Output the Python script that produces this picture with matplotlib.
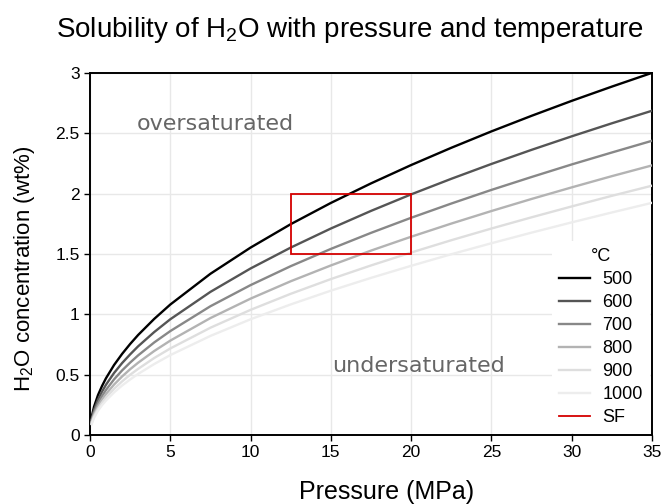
import matplotlib
matplotlib.use("Agg")
import matplotlib.pyplot as plt
from matplotlib.patches import Rectangle

plt.rcParams['font.family'] = ['Liberation Sans', 'DejaVu Sans']
plt.rcParams['mathtext.fontset'] = 'custom'
plt.rcParams['mathtext.rm'] = 'Liberation Sans'
plt.rcParams['mathtext.it'] = 'Liberation Sans'

# pressure (MPa) and H2O concentration (wt%)
pressure = [0.1, 0.25, 0.5, 0.75, 1, 1.5, 2, 2.5, 3, 4, 5, 7.5, 10, 12.5, 15,
            17.5, 20, 22.5, 25, 27.5, 30, 32.5, 35]
temps = ['500', '600', '700', '800', '900', '1000']
conc_500 = [0.146, 0.233, 0.331, 0.406, 0.471, 0.580, 0.672, 0.754, 0.829, 0.962,
            1.081, 1.336, 1.553, 1.747, 1.923, 2.085, 2.237, 2.380, 2.516, 2.645,
            2.769, 2.887, 3.001]
conc_600 = [0.130, 0.206, 0.293, 0.360, 0.417, 0.514, 0.596, 0.668, 0.735, 0.853,
            0.959, 1.186, 1.380, 1.553, 1.711, 1.857, 1.994, 2.123, 2.246, 2.363,
            2.475, 2.583, 2.687]
conc_700 = [0.116, 0.185, 0.263, 0.323, 0.374, 0.461, 0.535, 0.600, 0.660, 0.767,
            0.861, 1.067, 1.242, 1.399, 1.542, 1.675, 1.800, 1.918, 2.031, 2.138,
            2.242, 2.341, 2.438]
conc_800 = [0.105, 0.168, 0.238, 0.293, 0.340, 0.418, 0.485, 0.545, 0.599, 0.696,
            0.782, 0.969, 1.130, 1.274, 1.405, 1.528, 1.643, 1.752, 1.856, 1.956,
            2.052, 2.145, 2.234]
conc_900 = [0.096, 0.153, 0.218, 0.268, 0.311, 0.383, 0.444, 0.499, 0.548, 0.638,
            0.717, 0.889, 1.037, 1.170, 1.292, 1.405, 1.512, 1.614, 1.711, 1.804,
            1.894, 1.982, 2.066]
conc_1000 = [0.089, 0.141, 0.201, 0.247, 0.286, 0.353, 0.410, 0.460, 0.506, 0.588,
             0.662, 0.821, 0.959, 1.082, 1.196, 1.302, 1.402, 1.498, 1.589, 1.677,
             1.762, 1.844, 1.924]
series = [conc_500, conc_600, conc_700, conc_800, conc_900, conc_1000]
colors = ['#000000', '#555555', '#888888', '#b3b3b3', '#dedede', '#ededed']

# SF box: pressure range and concentration range
sf_p = [12.5, 20]
sf_c = [1.5, 2.0]

fig = plt.figure(figsize=(6.63, 5.04), dpi=100)
ax = fig.add_axes([0.1357, 0.1369, 0.8477, 0.7183])

for t, c, col in zip(temps, series, colors):
    ax.plot(pressure, c, color=col, lw=1.7, label=t, zorder=3)

ax.add_patch(Rectangle((sf_p[0], sf_c[0]), sf_p[1] - sf_p[0], sf_c[1] - sf_c[0],
                       fill=False, edgecolor='#d40000', lw=1.3, zorder=4))
ax.plot([], [], color='#d40000', lw=1.3, label='SF')

ax.text(7.8, 2.58, 'oversaturated', color='#666666', fontsize=16,
        family='DejaVu Sans', ha='center', va='center')
ax.text(20.45, 0.57, 'undersaturated', color='#666666', fontsize=16,
        family='DejaVu Sans', ha='center', va='center')

ax.set_xlim(0, 35)
ax.set_ylim(0, 3)
ax.set_xticks(range(0, 36, 5))
ax.set_yticks([0, 0.5, 1, 1.5, 2, 2.5, 3])
ax.set_yticklabels(['0', '0.5', '1', '1.5', '2', '2.5', '3'])
ax.grid(color='#e8e8e8', lw=1)
ax.set_axisbelow(True)
ax.tick_params(direction='out', length=4, width=1, labelsize=12.5)
for s in ax.spines.values():
    s.set_linewidth(1.4)

ax.set_xlabel('Pressure (MPa)', fontsize=18)
ax.xaxis.set_label_coords(0.527, -0.125)
ax.set_ylabel('H$_2$O concentration (wt%)', fontsize=16)
ax.yaxis.set_label_coords(-0.095, 0.459)
fig.suptitle('Solubility of H$_{2}$O with pressure and temperature', fontsize=20,
             x=0.528, y=0.97)

leg = ax.legend(title='°C', loc='lower right', fontsize=13, title_fontsize=13,
                frameon=True, fancybox=False, framealpha=1, edgecolor='white',
                borderaxespad=0.1, labelspacing=0.33, handlelength=1.7,
                handletextpad=0.7)
leg.get_frame().set_linewidth(0)

fig.savefig('out.png', dpi=100)
